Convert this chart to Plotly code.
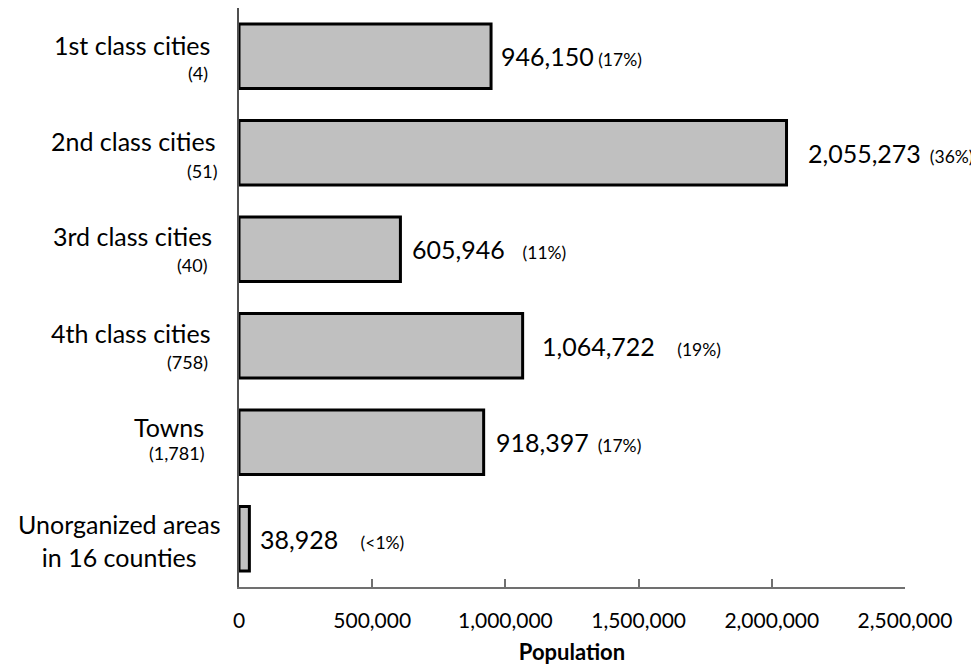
import plotly.graph_objects as go

categories = ["1st class cities", "2nd class cities", "3rd class cities",
              "4th class cities", "Towns", "Unorganized areas<br>in 16 counties"]
counts = ["(4)", "(51)", "(40)", "(758)", "(1,781)", ""]
population = [946150, 2055273, 605946, 1064722, 918397, 38928]
percent_labels = ["(17%)", "(36%)", "(11%)", "(19%)", "(17%)", "(<1%)"]
tick_values = [0, 500000, 1000000, 1500000, 2000000, 2500000]
tick_labels = ["0", "500,000", "1,000,000", "1,500,000", "2,000,000", "2,500,000"]

FONT = "Lato, 'Open Sans', sans-serif"
# styling: gap between bar end and value, spaces before percent, label offsets
bar_gaps = [8, 19, 10, 17, 10, 9]
pct_spaces = [1, 2, 4, 5, 2, 5]
main_shift = [11, 12, 13, 13, 15, -2]
sub_shift = [-17, -18, -16, -16, -11, 0]
main_x = [-27, -21, -25, -26, -33, -17]
sub_x = [-29, -19, -29, -29, -33, 0]

ypos = list(range(len(categories)))

fig = go.Figure()
fig.add_trace(go.Bar(
    x=population, y=ypos, orientation="h",
    marker=dict(color="#c0c0c0", line=dict(color="black", width=3)),
    width=0.67, hoverinfo="x",
))

annotations = []
for i, (cat, cnt, val, pct) in enumerate(zip(categories, counts, population, percent_labels)):
    sp = "&nbsp;" * pct_spaces[i]
    annotations.append(dict(
        x=val, y=i, xref="x", yref="y", xanchor="left", yanchor="middle",
        xshift=bar_gaps[i], showarrow=False,
        text=f"{val:,}<span style='font-size:17.5px'>{sp}{pct}</span>",
        font=dict(size=25, color="black", family=FONT),
    ))
    annotations.append(dict(
        x=0, y=i, xref="paper", yref="y", xanchor="right", yanchor="middle",
        xshift=main_x[i], yshift=main_shift[i], showarrow=False, text=cat,
        align="center", font=dict(size=25, color="black", family=FONT),
    ))
    if cnt:
        annotations.append(dict(
            x=0, y=i, xref="paper", yref="y", xanchor="right", yanchor="middle",
            xshift=sub_x[i], yshift=sub_shift[i], showarrow=False, text=cnt,
            font=dict(size=18, color="black", family=FONT),
        ))

fig.update_layout(
    width=971, height=660,
    margin=dict(l=231, r=74, t=0, b=81),
    paper_bgcolor="white", plot_bgcolor="white",
    showlegend=False, bargap=0.33,
    font=dict(family=FONT, color="black"),
    annotations=annotations,
    xaxis=dict(
        range=[0, 2500000], tickvals=tick_values, ticktext=tick_labels,
        ticks="inside", ticklen=8, tickcolor="#707070", tickwidth=1.5,
        showline=True, linecolor="#707070", linewidth=1.5,
        showgrid=False, zeroline=False, automargin=False,
        tickfont=dict(size=21, color="black", family=FONT),
        ticklabelstandoff=14,
        title=dict(text="<b>Population</b>", font=dict(size=22, color="black", family=FONT), standoff=14),
    ),
    yaxis=dict(
        range=[5.5, -0.5], showticklabels=False, ticks="",
        showline=True, linecolor="#505050", linewidth=2,
        showgrid=False, zeroline=False, automargin=False,
    ),
)

fig.write_html("out.html")
